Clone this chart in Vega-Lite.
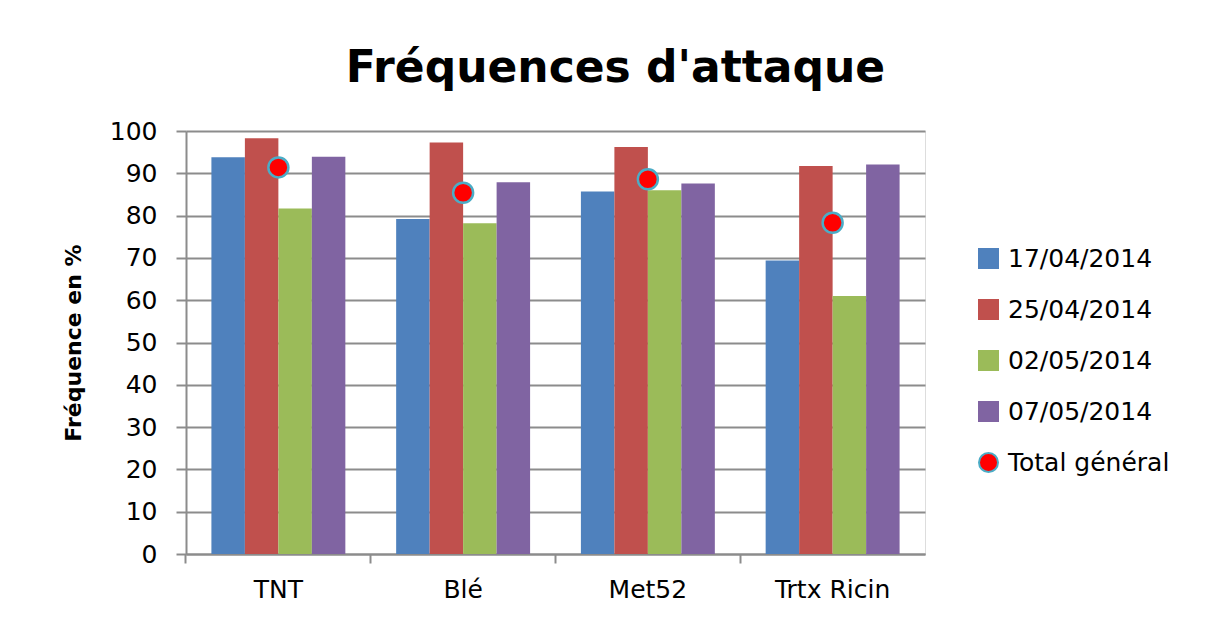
{
  "$schema": "https://vega.github.io/schema/vega-lite/v6.json",
  "width": 739,
  "height": 423,
  "autosize": {"type": "none"},
  "padding": {"left": 186, "top": 131, "right": 296, "bottom": 69},
  "background": "white",
  "title": {
    "text": "Fréquences d'attaque",
    "font": "DejaVu Sans",
    "fontWeight": "bold",
    "fontSize": 44,
    "color": "black",
    "anchor": "middle",
    "dx": 60,
    "offset": 28
  },
  "data": {
    "values": [
      {"cat": "TNT", "serie": "17/04/2014", "value": 93.8},
      {"cat": "TNT", "serie": "25/04/2014", "value": 98.3},
      {"cat": "TNT", "serie": "02/05/2014", "value": 81.7},
      {"cat": "TNT", "serie": "07/05/2014", "value": 93.9},
      {"cat": "TNT", "serie": "Total général", "value": 91.4},
      {"cat": "Blé", "serie": "17/04/2014", "value": 79.2},
      {"cat": "Blé", "serie": "25/04/2014", "value": 97.3},
      {"cat": "Blé", "serie": "02/05/2014", "value": 78.2},
      {"cat": "Blé", "serie": "07/05/2014", "value": 87.9},
      {"cat": "Blé", "serie": "Total général", "value": 85.4},
      {"cat": "Met52", "serie": "17/04/2014", "value": 85.7},
      {"cat": "Met52", "serie": "25/04/2014", "value": 96.2},
      {"cat": "Met52", "serie": "02/05/2014", "value": 86.0},
      {"cat": "Met52", "serie": "07/05/2014", "value": 87.6},
      {"cat": "Met52", "serie": "Total général", "value": 88.6},
      {"cat": "Trtx Ricin", "serie": "17/04/2014", "value": 69.4},
      {"cat": "Trtx Ricin", "serie": "25/04/2014", "value": 91.7},
      {"cat": "Trtx Ricin", "serie": "02/05/2014", "value": 61.0},
      {"cat": "Trtx Ricin", "serie": "07/05/2014", "value": 92.1},
      {"cat": "Trtx Ricin", "serie": "Total général", "value": 78.3}
    ]
  },
  "encoding": {
    "x": {
      "field": "cat",
      "type": "nominal",
      "sort": ["TNT", "Blé", "Met52", "Trtx Ricin"],
      "scale": {"paddingInner": 0.275, "paddingOuter": 0.1375},
      "axis": {
        "title": null,
        "labelAngle": 0,
        "labelFont": "DejaVu Sans",
        "labelFontSize": 25,
        "labelColor": "black",
        "labelPadding": 14,
        "bandPosition": -0.19,
        "tickSize": 9,
        "tickColor": "#8c8c8c",
        "tickWidth": 2,
        "domainColor": "#8c8c8c",
        "domainWidth": 2,
        "grid": false
      }
    },
    "y": {
      "field": "value",
      "type": "quantitative",
      "scale": {"domain": [0, 100], "nice": false},
      "axis": {
        "title": "Fréquence en %",
        "titleFont": "DejaVu Sans",
        "titleFontWeight": "bold",
        "titleFontSize": 22,
        "titleColor": "black",
        "titlePadding": 24,
        "values": [0, 10, 20, 30, 40, 50, 60, 70, 80, 90, 100],
        "labelFont": "DejaVu Sans",
        "labelFontSize": 25,
        "labelColor": "black",
        "labelPadding": 19,
        "tickSize": 10,
        "tickColor": "#8c8c8c",
        "tickWidth": 2,
        "domainColor": "#8c8c8c",
        "domainWidth": 2,
        "grid": true,
        "gridColor": "#8c8c8c",
        "gridWidth": 2
      }
    },
    "color": {
      "field": "serie",
      "type": "nominal",
      "scale": {
        "domain": ["17/04/2014", "25/04/2014", "02/05/2014", "07/05/2014", "Total général"],
        "range": ["#4f81bd", "#c0504d", "#9bbb59", "#8064a2", "#ff0000"]
      },
      "legend": {
        "title": null,
        "orient": "none",
        "legendX": 790,
        "legendY": 115,
        "labelFont": "DejaVu Sans",
        "labelFontSize": 25,
        "labelColor": "black",
        "labelLimit": 400,
        "rowPadding": 24,
        "symbolSize": 361,
        "symbolStrokeWidth": 2,
        "labelOffset": 7
      }
    }
  },
  "layer": [
    {
      "transform": [{"filter": "datum.serie !== 'Total général'"}],
      "mark": {"type": "bar"},
      "encoding": {
        "xOffset": {
          "field": "serie",
          "type": "nominal",
          "sort": ["17/04/2014", "25/04/2014", "02/05/2014", "07/05/2014"],
          "scale": {"paddingInner": 0, "paddingOuter": 0}
        }
      }
    },
    {
      "transform": [{"filter": "datum.serie === 'Total général'"}],
      "mark": {"type": "point", "filled": true, "size": 400, "strokeWidth": 2.5, "opacity": 1},
      "encoding": {
        "shape": {
          "field": "serie",
          "type": "nominal",
          "scale": {
            "domain": ["17/04/2014", "25/04/2014", "02/05/2014", "07/05/2014", "Total général"],
            "range": ["square", "square", "square", "square", "circle"]
          }
        },
        "stroke": {
          "field": "serie",
          "type": "nominal",
          "scale": {
            "domain": ["17/04/2014", "25/04/2014", "02/05/2014", "07/05/2014", "Total général"],
            "range": ["#4f81bd", "#c0504d", "#9bbb59", "#8064a2", "#4bacc6"]
          }
        }
      }
    }
  ]
}
